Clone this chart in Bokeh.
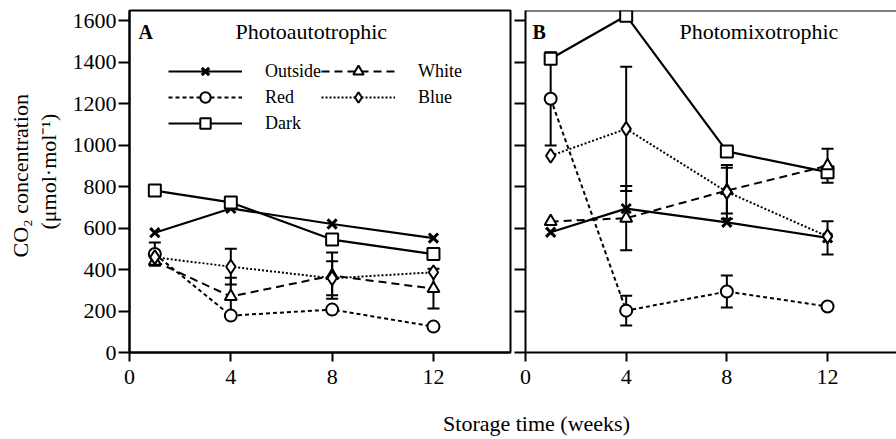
import math
from bokeh.plotting import figure
from bokeh.models import (Label, Legend, LegendItem, Whisker, TeeHead, ColumnDataSource,
                          FixedTicker, Span)
from bokeh.layouts import row, column
from bokeh.embed import file_html
from bokeh.resources import INLINE

# ---------------- data ----------------
weeks = [1, 4, 8, 12]
series_names = ["Outside", "Red", "Dark", "White", "Blue"]

# Panel A : Photoautotrophic
a_outside = [578, 695, 620, 552]
a_red = [475, 178, 207, 125]
a_dark = [781, 724, 545, 475]
a_white = [440, 270, 371, 308]
a_blue = [460, 414, 358, 387]
a_outside_err = [0, 0, 0, 0]
a_red_err = [56, 0, 0, 0]
a_dark_err = [0, 0, 0, 0]
a_white_err = [0, 91, 112, 96]
a_blue_err = [0, 86, 82, 0]

# Panel B : Photomixotrophic
b_outside = [580, 694, 628, 553]
b_red = [1224, 202, 294, 222]
b_dark = [1417, 1625, 970, 870]
b_white = [632, 648, 781, 901]
b_blue = [949, 1079, 775, 560]
b_outside_err = [0, 0, 0, 80]
b_red_err = [225, 72, 77, 0]
b_dark_err = [0, 0, 0, 0]
b_white_err = [0, 155, 110, 82]
b_blue_err = [0, 300, 130, 0]

x_ticks = [0, 4, 8, 12]
x_tick_labels = ["0", "4", "8", "12"]
y_ticks = [0, 200, 400, 600, 800, 1000, 1200, 1400, 1600]
y_tick_labels = ["0", "200", "400", "600", "800", "1000", "1200", "1400", "1600"]

panel_a_letter = "A"
panel_a_title = "Photoautotrophic"
panel_b_letter = "B"
panel_b_title = "Photomixotrophic"
y_title_1 = "CO\u2082 concentration"
y_title_2 = "(\u03bcmol\u00b7mol\u207b\u00b9)"
x_title = "Storage time (weeks)"

FONT = "Liberation Serif"
ROW_H = 396
FRAME_BOTTOM = 352

styles = {
    "Outside": dict(marker="x", dash="solid", size=13, lw=2.2, mlw=3),
    "Red": dict(marker="circle", dash="4 3", size=12, lw=2, mlw=2),
    "Dark": dict(marker="square", dash="solid", size=12, lw=2.2, mlw=2),
    "White": dict(marker="triangle", dash="8 5", size=12, lw=2, mlw=2),
    "Blue": dict(marker="diamond", dash="2 2", size=14, lw=2, mlw=2),
}


def make_panel(width, x_end, border_left, border_right, labels_on):
    p = figure(width=width, height=ROW_H, x_range=(0, x_end), y_range=(0, 1650),
               output_backend="svg", toolbar_location=None,
               min_border_left=border_left, min_border_right=border_right,
               min_border_top=10, min_border_bottom=44)
    p.grid.visible = False
    p.background_fill_color = "white"
    p.border_fill_color = "white"
    p.outline_line_color = "black"
    p.outline_line_width = 2
    for ax in (p.xaxis[0], p.yaxis[0]):
        ax.axis_line_width = 2
        ax.axis_line_color = "black"
        ax.major_tick_line_width = 2
        ax.major_tick_line_color = "black"
        ax.major_tick_in = 0
        ax.minor_tick_line_color = None
        ax.major_label_text_font = FONT
        ax.major_label_text_font_size = "22px"
        ax.major_label_text_color = "black"
    p.xaxis.ticker = FixedTicker(ticks=x_ticks)
    p.xaxis.major_label_overrides = dict(zip(x_ticks, x_tick_labels))
    p.xaxis.major_tick_out = 9
    p.xaxis.major_label_standoff = 8
    p.yaxis.ticker = FixedTicker(ticks=y_ticks)
    p.yaxis.major_tick_out = 11
    if labels_on:
        p.yaxis.major_label_standoff = 2
        p.yaxis.major_label_overrides = dict(zip(y_ticks, y_tick_labels))
    else:
        p.yaxis.major_label_standoff = 0
        p.yaxis.major_label_overrides = {t: "" for t in y_ticks}
    return p


def add_series(p, values_list, errs_list):
    for name, vals, errs in zip(series_names, values_list, errs_list):
        ex = [w for w, e in zip(weeks, errs) if e > 0]
        if ex:
            up = [v + e for v, e in zip(vals, errs) if e > 0]
            lo = [v - e for v, e in zip(vals, errs) if e > 0]
            src_e = ColumnDataSource(dict(x=ex, upper=up, lower=lo))
            wk = Whisker(source=src_e, base="x", upper="upper", lower="lower",
                         line_width=2, line_color="black",
                         upper_head=TeeHead(size=12, line_width=2, line_color="black"),
                         lower_head=TeeHead(size=12, line_width=2, line_color="black"))
            p.add_layout(wk)
    lines = {}
    for name, vals in zip(series_names, values_list):
        st = styles[name]
        src = ColumnDataSource(dict(x=weeks, y=vals))
        lines[name] = p.line("x", "y", source=src, line_color="black", line_width=st["lw"],
                             line_dash=st["dash"])
    items = []
    for name, vals in zip(series_names, values_list):
        st = styles[name]
        src = ColumnDataSource(dict(x=weeks, y=vals))
        sr = p.scatter("x", "y", source=src, marker=st["marker"], size=st["size"],
                       line_color="black", line_width=st["mlw"], fill_color="white")
        items.append((name, lines[name], sr))
    return items


def txt(x, y, text, size="22px", bold=False, **kw):
    return Label(x=x, y=y, x_units="screen", y_units="screen", text=text,
                 text_font=FONT, text_font_size=size, text_color="black",
                 text_font_style="bold" if bold else "normal", **kw)


# ---------------- y title column (frame aligned with panel frames: 10..352) ----------------
left = figure(width=66, height=ROW_H, x_range=(0, 1), y_range=(0, 1), output_backend="svg",
              toolbar_location=None, x_axis_location=None, y_axis_location=None,
              min_border=0)
left.grid.visible = False
left.outline_line_color = None
left.add_layout(txt(20, FRAME_BOTTOM - 257, y_title_1, angle=math.pi / 2, text_align="left",
                    text_baseline="middle"))
left.add_layout(txt(48, FRAME_BOTTOM - 229, y_title_2, angle=math.pi / 2, text_align="left",
                    text_baseline="middle"))

# ---------------- panel A ----------------
pA = make_panel(446, 381 / 25.33, 63, 2, True)
itemsA = add_series(pA, [a_outside, a_red, a_dark, a_white, a_blue],
                    [a_outside_err, a_red_err, a_dark_err, a_white_err, a_blue_err])

legend = Legend(items=[LegendItem(label=n, renderers=[l, s]) for n, l, s in itemsA],
                location=(39, 216), orientation="vertical", ncols=2,
                glyph_width=74, glyph_height=26, label_standoff=23, spacing=0,
                padding=0, margin=0, border_line_color=None,
                background_fill_alpha=0, label_text_font=FONT,
                label_text_font_size="18px", label_text_color="black", label_height=26)
pA.add_layout(legend)

pA.add_layout(txt(9, 321, panel_a_letter, size="20px", bold=True, text_baseline="middle"))
pA.add_layout(txt(106, 321, panel_a_title, text_baseline="middle"))

# ---------------- panel B ----------------
pB = make_panel(384, 371 / 25.17, 13, 0, False)
pB.outline_line_color = None
add_series(pB, [b_outside, b_red, b_dark, b_white, b_blue],
           [b_outside_err, b_red_err, b_dark_err, b_white_err, b_blue_err])
pB.add_layout(Span(location=1650, dimension="width", line_color="black", line_width=2))
pB.add_layout(txt(7, 321, panel_b_letter, size="20px", bold=True, text_baseline="middle"))
pB.add_layout(txt(154, 321, panel_b_title, text_baseline="middle"))

# ---------------- shared x title ----------------
t = figure(width=896, height=43, x_range=(0, 1), y_range=(0, 1), output_backend="svg",
           toolbar_location=None, x_axis_location=None, y_axis_location=None,
           min_border=0)
t.grid.visible = False
t.outline_line_color = None
t.add_layout(txt(536, 16.5, x_title, text_align="center", text_baseline="middle"))

layout = column(row(left, pA, pB), t)
open("out.html", "w").write(file_html(layout, INLINE))
